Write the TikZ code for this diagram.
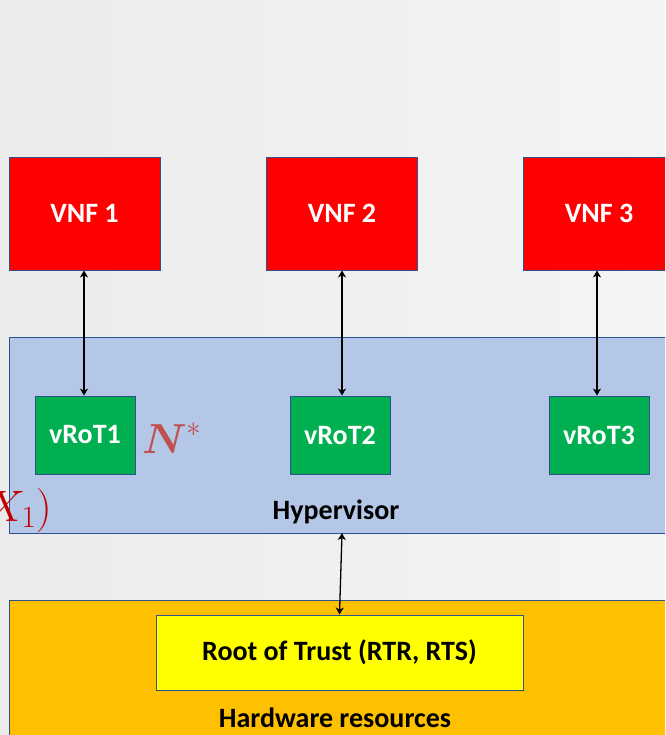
\documentclass[tikz,border=0pt]{standalone}
\usepackage{fix-cm}
\usepackage{fontspec}
\usepackage{amsmath}
\setmainfont{Carlito}
\usetikzlibrary{arrows.meta}
\definecolor{bgL}{HTML}{EAEBEA}
\definecolor{bgR}{HTML}{F4F4F4}
\definecolor{vnfred}{HTML}{FF0000}
\definecolor{rotgreen}{HTML}{00B050}
\definecolor{hypblue}{HTML}{B4C7E7}
\definecolor{hwgold}{HTML}{FFC000}
\definecolor{rotyellow}{HTML}{FFFF00}
\definecolor{edgeblue}{HTML}{2F528F}
\definecolor{nstar}{HTML}{C0504D}
\definecolor{xred}{HTML}{C00000}
\tikzset{
  box/.style={draw=edgeblue, line width=0.9pt, inner sep=0pt, align=center,
    font=\fontsize{28}{32}\selectfont\bfseries},
  vnfbox/.style={box, fill=vnfred, text=white, minimum width=151pt, minimum height=113pt},
  vrotbox/.style={box, fill=rotgreen, text=white, minimum width=100pt, minimum height=78pt},
  layerbox/.style={draw=edgeblue, line width=0.9pt, inner sep=0pt},
  lbl/.style={inner sep=0pt, font=\fontsize{28}{32}\selectfont\bfseries},
  link/.style={line width=1.3pt, {Stealth[length=7pt,width=8pt,inset=2pt]}-{Stealth[length=7pt,width=8pt,inset=2pt]}}
}
\begin{document}
\begin{tikzpicture}[x=1pt,y=-1pt]
\useasboundingbox (0,0) rectangle (665,735);
\clip (0,0) rectangle (665,735);
\shade[left color=bgL, right color=bgR] (0,0) rectangle (665,735);

% layers
\node[layerbox, fill=hypblue, minimum width=671pt, minimum height=196pt] (hyp) at (344.5,435) {};
\node[layerbox, fill=hwgold, minimum width=671pt, minimum height=160pt] (hw) at (344.5,680.5) {};

% VNFs
\node[vnfbox] (vnf1) at (84.5,213.5) {VNF 1};
\node[vnfbox] (vnf2) at (342,213.5) {VNF 2};
\node[vnfbox] (vnf3) at (599,213.5) {VNF 3};

% vRoTs
\node[vrotbox] (vrot1) at (85,435) {vRoT1};
\node[vrotbox] (vrot2) at (340,435) {vRoT2};
\node[vrotbox] (vrot3) at (599,435) {vRoT3};

% labels
\node[lbl] (hyplabel) at (336,512) {Hypervisor};
\node[box, fill=rotyellow, text=black, minimum width=367pt, minimum height=75pt] (rot) at (339.5,652.5) {Root of Trust (RTR, RTS)};
\node[lbl] (hwlabel) at (335,718) {Hardware resources};

\node[inner sep=0pt, text=nstar, font=\fontsize{42}{46}\selectfont] (nstarlbl) at (172,438) {$\boldsymbol{N}^{*}$};
\node[inner sep=0pt, anchor=base east, text=xred, font=\fontsize{44}{48}\selectfont] (xlbl) at (52,521) {$X_1)$};

% connectors
\draw[link] (vnf1.south -| 84,0) -- (vrot1.north -| 84,0);
\draw[link] (vnf2.south) -- (vrot2.north -| vnf2.south);
\draw[link] (vnf3.south -| 597,0) -- (vrot3.north -| 597,0);
\coordinate (hypdown) at (342,533);
\draw[link] (hypdown) -- (rot.north);
\end{tikzpicture}
\end{document}
